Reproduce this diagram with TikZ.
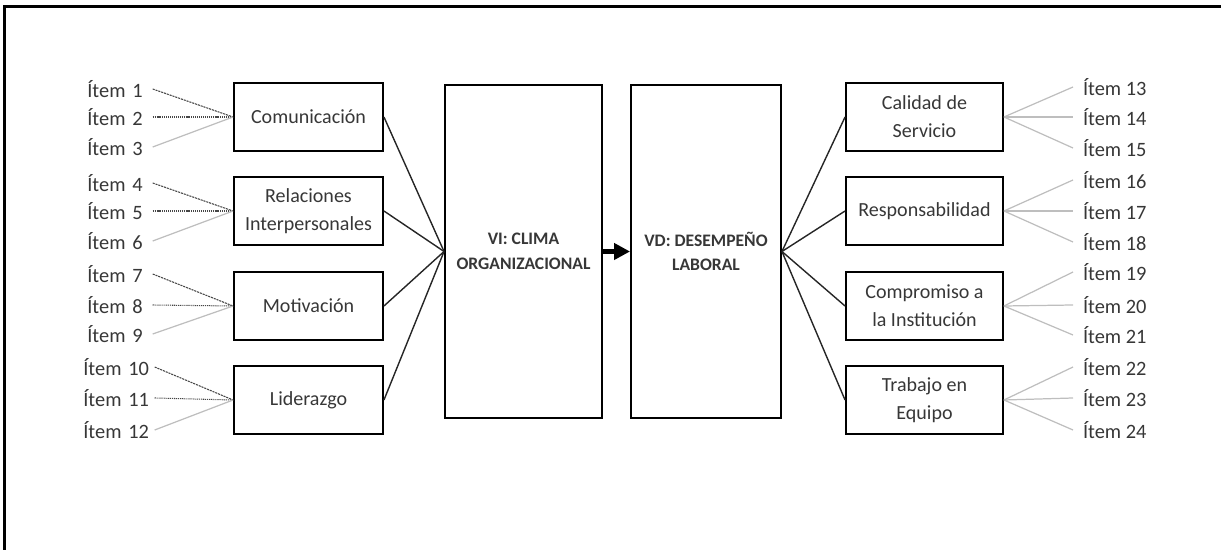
\documentclass[tikz,border=0pt]{standalone}
\usepackage{fontspec}
\setmainfont{Carlito}
\usetikzlibrary{arrows.meta}
\definecolor{txt}{RGB}{55,55,55}
\definecolor{lightln}{RGB}{190,190,190}
\definecolor{darkln}{RGB}{70,70,70}
\begin{document}
\begin{tikzpicture}[x=0.02cm,y=-0.02cm,
  box/.style={draw=black, line width=1.1pt, align=center, text=txt,
    font=\fontsize{11.4}{16}\selectfont, inner sep=0pt, minimum height=1.36cm},
  lbox/.style={box, minimum width=2.98cm},
  rbox/.style={box, minimum width=3.14cm},
  bigbox/.style={draw=black, line width=1.1pt, align=center, text=txt,
    font=\fontsize{10}{14}\selectfont\bfseries, inner sep=0pt, minimum height=6.66cm},
  iteml/.style={anchor=west, text=txt, font=\fontsize{11.6}{13}\selectfont,
    inner xsep=0pt, inner ysep=1pt, text width=1.3cm, align=left},
  iteml2/.style={iteml, text width=1.42cm},
  itemr/.style={anchor=west, text=txt, font=\fontsize{11.6}{13}\selectfont,
    inner xsep=5.5pt, inner ysep=1pt},
  conn/.style={draw=black!85, line width=0.8pt},
  ldash/.style={draw=darkln, line width=0.6pt, dash pattern=on 1.2pt off 0.5pt},
  ldot/.style={draw=darkln, line width=0.6pt, dash pattern=on 0.6pt off 0.5pt},
  lsolid/.style={draw=lightln, line width=0.7pt},
]
\useasboundingbox (0,0) rectangle (1221,550);
\draw[line width=1.3pt] (4.5,550) -- (4.5,6.5) -- (1221,6.5);

% central boxes
\node[bigbox, minimum width=3.14cm] (vi) at (523.5,251.5) {VI: CLIMA\\ORGANIZACIONAL};
\node[bigbox, minimum width=3.0cm] (vd) at (706,251.5) {VD: DESEMPEÑO\\LABORAL};
\draw[line width=2.5pt, -{Triangle[length=9pt,width=9pt]}] (vi.east) -- (vd.west);

% left boxes
\node[lbox] (com) at (308.5,117) {Comunicación};
\node[lbox] (rel) at (308.5,211) {Relaciones\\Interpersonales};
\node[lbox] (mot) at (308.5,306) {Motivación};
\node[lbox] (lid) at (308.5,400) {Liderazgo};

% right boxes
\node[rbox] (cal) at (924.5,117) {Calidad de\\Servicio};
\node[rbox] (res) at (924.5,211) {Responsabilidad};
\node[rbox] (cpr) at (924.5,306) {Compromiso a\\la Institución};
\node[rbox] (tra) at (924.5,400) {Trabajo en\\Equipo};

\foreach \b in {com,rel,mot,lid} \draw[conn] (\b.east) -- (vi.west);
\foreach \b in {cal,res,cpr,tra} \draw[conn] (vd.east) -- (\b.west);

% left items
\node[iteml] (i1) at (87,89) {Ítem~1};
\node[iteml] (i2) at (87,117) {Ítem~2};
\node[iteml] (i3) at (87,147) {Ítem~3};
\node[iteml] (i4) at (87,183) {Ítem~4};
\node[iteml] (i5) at (87,211) {Ítem~5};
\node[iteml] (i6) at (87,241) {Ítem~6};
\node[iteml] (i7) at (87,274) {Ítem~7};
\node[iteml] (i8) at (87,305) {Ítem~8};
\node[iteml] (i9) at (87,334) {Ítem~9};
\node[iteml2] (i10) at (83,367) {Ítem~10};
\node[iteml2] (i11) at (83,398) {Ítem~11};
\node[iteml2] (i12) at (83,430) {Ítem~12};

\draw[ldash] (i1.east) -- (com.west);
\draw[ldot] (i2.east) -- (com.west);
\draw[lsolid] (i3.east) -- (com.west);
\draw[ldash] (i4.east) -- (rel.west);
\draw[ldot] (i5.east) -- (rel.west);
\draw[lsolid] (i6.east) -- (rel.west);
\draw[ldash] (i7.east) -- (mot.west);
\draw[ldot] (i8.east) -- (mot.west);
\draw[lsolid] (i9.east) -- (mot.west);
\draw[ldash] (i10.east) -- (lid.west);
\draw[ldot] (i11.east) -- (lid.west);
\draw[lsolid] (i12.east) -- (lid.west);

% right items
\node[itemr] (i13) at (1073,87) {Ítem 13};
\node[itemr] (i14) at (1073,117) {Ítem 14};
\node[itemr] (i15) at (1073,148) {Ítem 15};
\node[itemr] (i16) at (1073,180) {Ítem 16};
\node[itemr] (i17) at (1073,211) {Ítem 17};
\node[itemr] (i18) at (1073,242) {Ítem 18};
\node[itemr] (i19) at (1073,272) {Ítem 19};
\node[itemr] (i20) at (1073,305) {Ítem 20};
\node[itemr] (i21) at (1073,335) {Ítem 21};
\node[itemr] (i22) at (1073,367) {Ítem 22};
\node[itemr] (i23) at (1073,398) {Ítem 23};
\node[itemr] (i24) at (1073,430) {Ítem 24};

\foreach \i in {13,14,15} \draw[lsolid] (cal.east) -- (i\i.west);
\foreach \i in {16,17,18} \draw[lsolid] (res.east) -- (i\i.west);
\foreach \i in {19,20,21} \draw[lsolid] (cpr.east) -- (i\i.west);
\foreach \i in {22,23,24} \draw[lsolid] (tra.east) -- (i\i.west);
\end{tikzpicture}
\end{document}
